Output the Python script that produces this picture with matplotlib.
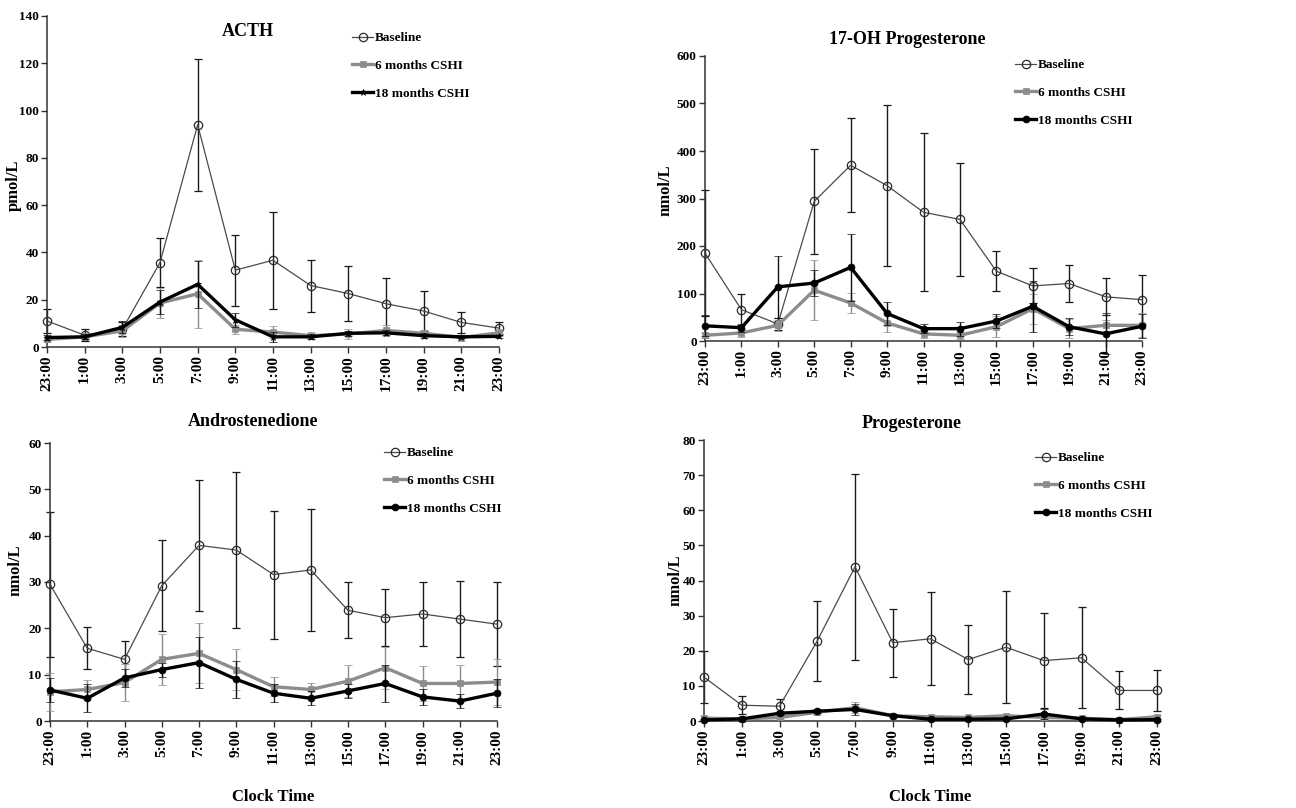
import matplotlib
matplotlib.use("Agg")
import matplotlib.pyplot as plt
import numpy as np

plt.rcParams['font.family'] = ['Liberation Serif', 'DejaVu Serif']
plt.rcParams['font.weight'] = 'bold'

times = ["23:00", "1:00", "3:00", "5:00", "7:00", "9:00", "11:00", "13:00",
         "15:00", "17:00", "19:00", "21:00", "23:00"]
series_labels = ["Baseline", "6 months CSHI", "18 months CSHI"]

# ACTH (pmol/L)
acth_base = [11, 5, 7.5, 35.7, 94, 32.5, 36.7, 26, 22.6, 18.3, 15.2, 10.4, 8]
acth_base_err = [5, 2.5, 3, 10.5, 28, 15, 20.5, 11, 11.5, 11, 8.5, 4.3, 2.5]
acth_6m = [3.2, 4.3, 6.8, 18.6, 22.5, 7.5, 6.3, 4.8, 5.5, 7.0, 5.8, 4.0, 6.0]
acth_6m_err = [1, 1.5, 2.5, 6.5, 14.5, 2, 2.5, 1.5, 2, 2.5, 1.5, 1, 1.5]
acth_18m = [4.0, 4.3, 8.3, 19.0, 26.5, 11.5, 4.3, 4.3, 5.8, 6.0, 4.8, 4.3, 4.5]
acth_18m_err = [1, 1, 2.5, 5, 10, 3, 2, 1, 1, 1, 1, 0.5, 0.5]

# 17-OH Progesterone (nmol/L)
ohp_base = [185, 66, 36, 294, 370, 327, 271, 256, 147, 116, 121, 93, 87]
ohp_base_err = [133, 32, 12, 110, 99, 169, 166, 119, 42, 37, 39, 39, 51]
ohp_6m = [12, 17, 33, 107, 80, 38, 15, 12, 30, 68, 26, 33, 33]
ohp_6m_err = [5, 8, 12, 63, 22, 20, 8, 8, 22, 32, 20, 12, 25]
ohp_18m = [32, 28, 114, 122, 155, 58, 26, 26, 42, 73, 30, 15, 31]
ohp_18m_err = [22, 8, 65, 28, 70, 24, 10, 15, 15, 54, 18, 43, 25]

# Androstenedione (nmol/L)
andro_base = [29.5, 15.7, 13.3, 29.2, 37.9, 36.9, 31.6, 32.6, 23.9, 22.3, 23.1, 22.0, 20.9]
andro_base_err = [15.6, 4.5, 4, 9.8, 14.2, 16.8, 13.8, 13.2, 6, 6.2, 6.9, 8.2, 9]
andro_6m = [6.3, 6.8, 8.3, 13.3, 14.6, 11.1, 7.4, 6.8, 8.6, 11.5, 8.1, 8.1, 8.4]
andro_6m_err = [4.1, 2, 4, 5.5, 6.5, 4.5, 2, 1.5, 3.5, 4.5, 3.7, 4, 5]
andro_18m = [6.7, 4.9, 9.3, 11.1, 12.6, 9.0, 6.0, 4.9, 6.5, 8.1, 5.2, 4.3, 6.0]
andro_18m_err = [2.5, 3, 2, 1.5, 5.5, 4, 2, 1.5, 1.5, 4, 1.7, 1.5, 3]

# Progesterone (nmol/L)
prog_base = [12.5, 4.5, 4.2, 22.8, 43.9, 22.3, 23.4, 17.5, 21.0, 17.2, 18.0, 8.7, 8.7]
prog_base_err = [7.3, 2.5, 2.2, 11.5, 26.4, 9.7, 13.2, 9.7, 16, 13.5, 14.4, 5.4, 5.9]
prog_6m = [0.8, 0.6, 1.0, 2.5, 3.8, 1.5, 1.2, 1.0, 1.5, 1.0, 0.8, 0.4, 1.2]
prog_6m_err = [0.5, 0.5, 0.5, 0.8, 1.5, 0.6, 0.5, 0.5, 0.6, 0.8, 0.5, 0.3, 0.5]
prog_18m = [0.3, 0.6, 2.2, 2.8, 3.3, 1.5, 0.5, 0.5, 0.6, 2.0, 0.6, 0.3, 0.4]
prog_18m_err = [0.3, 0.5, 0.6, 0.6, 1.5, 0.5, 0.3, 0.3, 0.4, 1.5, 0.4, 0.2, 0.3]

W, H = 1296, 808
fig = plt.figure(figsize=(W / 100, H / 100), dpi=100)


def px_axes(l, r, t, b):
    return fig.add_axes([l / W, 1 - b / H, (r - l) / W, (b - t) / H])


panels = [
    dict(box=(47, 499, 16, 347), title="ACTH", tpos=(248, 32), ylabel="pmol/L",
         ypos=(14, 185), ymax=140, ystep=20,
         data=[(acth_base, acth_base_err), (acth_6m, acth_6m_err), (acth_18m, acth_18m_err)],
         m18='*', leg=(352, 32), xlabel=False),
    dict(box=(705, 1142, 56, 341), title="17-OH Progesterone", tpos=(907, 40), ylabel="nmol/L",
         ypos=(666, 190), ymax=600, ystep=100,
         data=[(ohp_base, ohp_base_err), (ohp_6m, ohp_6m_err), (ohp_18m, ohp_18m_err)],
         m18='o', leg=(1015, 59), xlabel=False),
    dict(box=(50, 497, 443, 721), title="Androstenedione", tpos=(253, 421), ylabel="nmol/L",
         ypos=(16, 570), ymax=60, ystep=10,
         data=[(andro_base, andro_base_err), (andro_6m, andro_6m_err), (andro_18m, andro_18m_err)],
         m18='o', leg=(384, 447), xlabel=True),
    dict(box=(704, 1157, 440, 721), title="Progesterone", tpos=(912, 423), ylabel="nmol/L",
         ypos=(675, 580), ymax=80, ystep=10,
         data=[(prog_base, prog_base_err), (prog_6m, prog_6m_err), (prog_18m, prog_18m_err)],
         m18='o', leg=(1035, 452), xlabel=True),
]

x = np.arange(len(times))

for p in panels:
    ax = px_axes(*p['box'])
    (b, be), (s6, s6e), (s18, s18e) = p['data']
    styles = [
        dict(color='#4a4a4a', lw=0.9, marker='o', ms=6, mfc='none', mec='#2a2a2a', mew=0.9,
             ecolor='#1a1a1a', elinewidth=1.0, zorder=2),
        dict(color='#8c8c8c', lw=2.4, marker='s', ms=4.8, mfc='#8c8c8c', mec='#8c8c8c', mew=0.5,
             ecolor='#8c8c8c', elinewidth=1.0, zorder=3),
        dict(color='#000000', lw=2.4, marker=p['m18'], ms=5 if p['m18'] == 'o' else 4.5,
             mfc='#000000', mec='#000000', mew=0.5, ecolor='#111111', elinewidth=1.0, zorder=4),
    ]
    handles = []
    for (m, e), st in zip([(b, be), (s6, s6e), (s18, s18e)], styles):
        eb = ax.errorbar(x, m, yerr=e, capsize=2.6, capthick=1.0, **st)
        eb[0].set_clip_on(False)
        for a in eb[1]:
            a.set_clip_on(False)
        for a in eb[2]:
            a.set_clip_on(False)
        handles.append(eb[0])

    ax.set_xlim(0, len(times) - 1)
    ax.set_ylim(0, p['ymax'])
    ax.set_yticks(np.arange(0, p['ymax'] + 1, p['ystep']))
    ax.set_xticks(x)
    ax.set_xticklabels(times, rotation=90, fontsize=11, fontweight='bold')
    for lab in ax.get_yticklabels():
        lab.set_fontsize(9.5)
        lab.set_fontweight('bold')
    ax.tick_params(axis='both', direction='out', length=4, width=1.0, color='#333333', pad=2)
    ax.spines['top'].set_visible(False)
    ax.spines['right'].set_visible(False)
    for sp in ('left', 'bottom'):
        ax.spines[sp].set_linewidth(1.1)
        ax.spines[sp].set_color('#333333')

    fig.text(p['tpos'][0] / W, 1 - p['tpos'][1] / H, p['title'], ha='center', va='center',
             fontsize=13, fontweight='bold')
    fig.text(p['ypos'][0] / W, 1 - p['ypos'][1] / H, p['ylabel'], ha='center', va='center',
             rotation=90, fontsize=12, fontweight='bold')
    if p['xlabel']:
        fig.text(((p['box'][0] + p['box'][1]) / 2) / W, 1 - 797 / H, "Clock Time",
                 ha='center', va='center', fontsize=12, fontweight='bold')

    ax.legend(handles, series_labels, loc='upper left',
              bbox_to_anchor=(p['leg'][0] / W, 1 - p['leg'][1] / H),
              bbox_transform=fig.transFigure, frameon=False, borderpad=0,
              borderaxespad=0, handlelength=1.6, handletextpad=0.15,
              labelspacing=1.17, prop={'size': 9.5, 'weight': 'bold'})

fig.savefig("out.png", dpi=100)
